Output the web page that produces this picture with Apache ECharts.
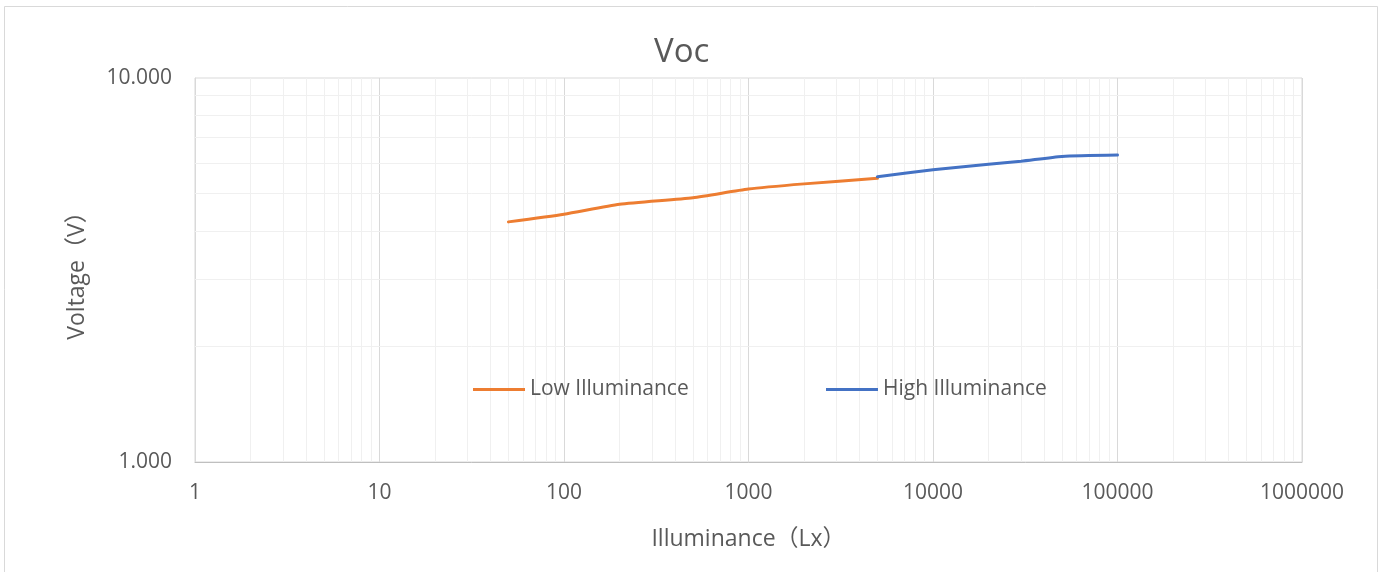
<!DOCTYPE html>
<html>
<head>
<meta charset="utf-8">
<script src="https://cdn.jsdelivr.net/npm/echarts@6/dist/echarts.min.js"></script>
<style>
  html, body { margin: 0; padding: 0; background: #fff; }
  #main { width: 1384px; height: 572px; }
</style>
</head>
<body>
<div id="main"></div>
<script>
"use strict"
// data
var lowLux = [50, 100, 200, 500, 1000, 2000, 5000];
var lowVoc = [4.22, 4.42, 4.69, 4.88, 5.14, 5.30, 5.48];
var highLux = [5000, 10000, 20000, 30000, 50000, 100000];
var highVoc = [5.53, 5.77, 5.96, 6.07, 6.25, 6.30];
var xMinorTicks = [];
var yMinorTicks = [2, 3, 4, 5, 6, 7, 8, 9];
for (var d = 1; d < 1000000; d *= 10) {
	for (var k = 2; k <= 9; k++) xMinorTicks.push(k * d);
}

var font = "'Open Sans', 'Noto Sans CJK SC', sans-serif";
var textColor = '#595959';

function pairs(xs, ys) {
	return xs.map(function (x, i) { return [x, ys[i]]; });
}

var minorLines = xMinorTicks.map(function (v) { return { xAxis: v }; })
	.concat(yMinorTicks.map(function (v) { return { yAxis: v }; }));

var myChart = echarts.init(document.getElementById('main'));
var legendText = { fontFamily: font, fontSize: 21, color: textColor };
var option = {
	backgroundColor: '#fff',
	animation: false,
	title: {
		text: 'Voc',
		left: 649,
		top: 31,
		textStyle: { fontFamily: font, fontSize: 33, fontWeight: 'normal', color: textColor }
	},
	graphic: [{
		type: 'rect',
		shape: { x: 4.5, y: 6.5, width: 1373, height: 600 },
		style: { fill: 'none', stroke: '#d9d9d9', lineWidth: 1 },
		silent: true
	}],
	legend: [{
		left: 473,
		top: 379,
		padding: 0,
		data: ['Low Illuminance'],
		icon: 'rect',
		itemWidth: 52,
		itemHeight: 3,
		itemGap: 6,
		textStyle: legendText
	}, {
		left: 826,
		top: 379,
		padding: 0,
		data: ['High Illuminance'],
		icon: 'rect',
		itemWidth: 52,
		itemHeight: 3,
		textStyle: legendText
	}],
	grid: {
		left: 195, top: 78, right: 82, bottom: 110,
		show: true, borderColor: '#d9d9d9', borderWidth: 1
	},
	xAxis: {
		type: 'log',
		logBase: 10,
		min: 1,
		max: 1000000,
		splitNumber: 6,
		name: 'Illuminance（Lx）',
		nameLocation: 'middle',
		nameGap: 66,
		nameTextStyle: { fontFamily: font, fontSize: 23, color: textColor },
		axisLine: { lineStyle: { color: '#bfbfbf', width: 1 } },
		axisTick: { show: false },
		axisLabel: {
			margin: 21, fontFamily: font, fontSize: 21, color: textColor,
			formatter: function (v) { return String(Math.round(v)); }
		},
		splitLine: { show: true, lineStyle: { color: '#d9d9d9', width: 1 } }
	},
	yAxis: {
		type: 'log',
		logBase: 10,
		min: 1,
		max: 10,
		name: 'Voltage（V）',
		nameLocation: 'middle',
		nameGap: 106,
		nameTextStyle: { fontFamily: font, fontSize: 23, color: textColor },
		axisLine: { show: true, lineStyle: { color: '#d9d9d9', width: 1 } },
		axisTick: { show: false },
		axisLabel: {
			margin: 23, fontFamily: font, fontSize: 21, color: textColor,
			formatter: function (v) { return Number(v).toFixed(3); }
		},
		splitLine: { show: false }
	},
	series: [{
		name: 'minor',
		type: 'line',
		data: [],
		z: 1,
		silent: true,
		markLine: {
			z: 1,
			silent: true,
			symbol: 'none',
			label: { show: false },
			lineStyle: { color: '#f0f0f0', width: 1, type: 'solid' },
			data: minorLines,
			animation: false
		}
	}, {
		name: 'Low Illuminance',
		type: 'line',
		data: pairs(lowLux, lowVoc),
		showSymbol: false,
		symbol: 'none',
		smooth: 0.2,
		z: 5,
		itemStyle: { color: '#ED7D31' },
		lineStyle: { color: '#ED7D31', width: 3, cap: 'round' }
	}, {
		name: 'High Illuminance',
		type: 'line',
		data: pairs(highLux, highVoc),
		showSymbol: false,
		symbol: 'none',
		smooth: 0.2,
		z: 5,
		itemStyle: { color: '#4472C4' },
		lineStyle: { color: '#4472C4', width: 3, cap: 'round' }
	}]
};

if (option && typeof option === "object") {
	myChart.setOption(option, true);
}
</script>
</body>
</html>
